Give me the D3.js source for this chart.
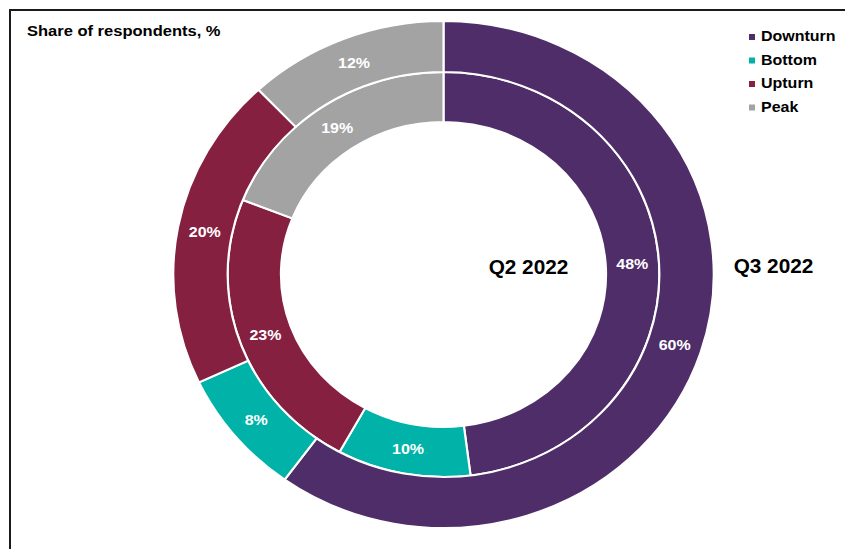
<!DOCTYPE html>
<html lang="en">
<head>
    <meta charset="UTF-8">
    <title>Share of respondents by cycle phase</title>
    <script src="https://d3js.org/d3.v7.min.js"></script>
    <style>
        body {
            margin: 0;
            background: #fff;
            font-family: "Liberation Sans", Arial, sans-serif;
        }
        text {
            font-weight: bold;
        }
    </style>
</head>
<body>
    <div id="chart"></div>
    <script>
        // data
        const categories = ["Downturn", "Bottom", "Upturn", "Peak"];
        const q3Values = [60, 8, 20, 12];   // outer ring
        const q2Values = [48, 10, 23, 19];  // inner ring
        const ringLabels = ["Q2 2022", "Q3 2022"];
        const colors = ["#4e2d69", "#00b2a8", "#862041", "#a3a3a3"];

        const W = 845, H = 549;
        const sx = 1.066;            // the original is slightly stretched sideways
        const cx = 443.5, cy = 274.5;

        const svg = d3.select("#chart")
            .append("svg")
            .attr("width", W)
            .attr("height", H);

        // frame (top + left edges)
        svg.append("line")
            .attr("x1", 10).attr("x2", W)
            .attr("y1", 10).attr("y2", 10)
            .attr("stroke", "#1a1a1a").attr("stroke-width", 2);
        svg.append("line")
            .attr("x1", 10).attr("x2", 10)
            .attr("y1", 9).attr("y2", H)
            .attr("stroke", "#1a1a1a").attr("stroke-width", 2);

        const root = svg.append("g")
            .attr("transform", `scale(${sx},1)`);

        const color = d3.scaleOrdinal().domain(categories).range(colors);

        const pie = d3.pie().sort(null).value(d => d.value);

        const rings = [
            { values: q2Values, inner: 152.5, outer: 202.5 },
            { values: q3Values, inner: 202.5, outer: 253.5 }
        ];

        const donut = root.append("g")
            .attr("transform", `translate(${cx / sx},${cy})`);

        rings.forEach(ring => {
            const arc = d3.arc().innerRadius(ring.inner).outerRadius(ring.outer);
            const data = pie(categories.map((c, i) => ({ cat: c, value: ring.values[i] })));
            const g = donut.append("g");

            g.selectAll("path")
                .data(data)
                .enter()
                .append("path")
                .attr("d", arc)
                .attr("fill", d => color(d.data.cat))
                .attr("stroke", "#fff")
                .attr("stroke-width", 2);

            g.selectAll("text")
                .data(data)
                .enter()
                .append("text")
                .attr("transform", d => `translate(${arc.centroid(d)})`)
                .attr("text-anchor", "middle")
                .attr("dy", "0.36em")
                .attr("fill", "#fff")
                .style("font-size", "15px")
                .text(d => d.data.value + "%");
        });

        // ring names
        root.append("text")
            .attr("x", 528.5 / sx).attr("y", 274)
            .attr("text-anchor", "middle")
            .style("font-size", "19.5px")
            .attr("fill", "#000")
            .text(ringLabels[0]);
        root.append("text")
            .attr("x", 773.5 / sx).attr("y", 273)
            .attr("text-anchor", "middle")
            .style("font-size", "19.5px")
            .attr("fill", "#000")
            .text(ringLabels[1]);

        // title
        root.append("text")
            .attr("x", 27 / sx).attr("y", 36)
            .style("font-size", "15.5px")
            .attr("fill", "#000")
            .text("Share of respondents, %");

        // legend
        const legend = root.append("g")
            .attr("transform", `translate(${749 / sx},0)`);
        const item = legend.selectAll("g")
            .data(categories)
            .enter()
            .append("g")
            .attr("transform", (d, i) => `translate(0,${41 + i * 23.5})`);
        item.append("rect")
            .attr("x", 0).attr("y", -7)
            .attr("width", 6 / sx).attr("height", 6)
            .attr("fill", d => color(d));
        item.append("text")
            .attr("x", 12 / sx).attr("y", 0)
            .style("font-size", "15px")
            .attr("fill", "#000")
            .text(d => d);
    </script>
</body>
</html>
